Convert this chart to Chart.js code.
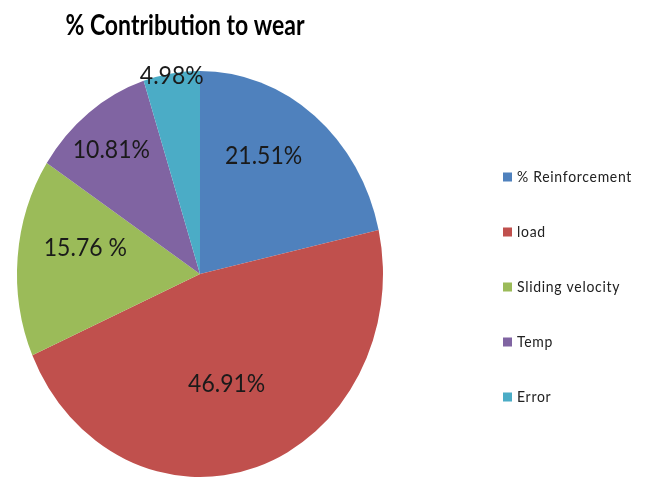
<!DOCTYPE html>
<html lang="en">
<head>
<meta charset="UTF-8">
<title>% Contribution to wear</title>
<style>
  html, body { margin: 0; padding: 0; background: #fff; }
  #wrap { width: 649px; height: 478px; }
</style>
</head>
<body>
<div id="wrap"><canvas id="wearChart" width="649" height="478"></canvas></div>
<script src="https://cdn.jsdelivr.net/npm/chart.js@4.4.0/dist/chart.umd.min.js"></script>
<script>
  // data
  var factors = ['% Reinforcement', 'load', 'Sliding velocity', 'Temp', 'Error'];
  var contribution = [21.51, 46.91, 15.76, 10.81, 4.98];
  var pctLabels = ['21.51%', '46.91%', '15.76 %', '10.81%', '4.98%'];
  var sliceColors = ['#4F81BD', '#C0504D', '#9BBB59', '#8064A2', '#4BACC6'];

  // the original pie (and its text) is a bit taller than wide
  var stretchY = 203 / 183;
  // where each percentage sits: fraction of the radius, and a small turn in degrees
  var labelRadius = [0.68, 0.56, 0.64, 0.78, 0.99];
  var labelTurn = [-8, 3, 7, -1, 0];

  function tallText(ctx, text, x, y, sy) {
    ctx.save();
    ctx.translate(x, y);
    ctx.scale(1, sy);
    ctx.fillText(text, 0, 0);
    ctx.restore();
  }

  var ovalPlugin = {
    id: 'oval',
    beforeDatasetsDraw: function (chart) {
      var a = chart.getDatasetMeta(0).data[0];
      var ctx = chart.ctx;
      ctx.save();
      ctx.translate(a.x, a.y);
      ctx.scale(1, stretchY);
      ctx.translate(-a.x, -a.y);
    },
    afterDatasetsDraw: function (chart) {
      chart.ctx.restore();
    }
  };

  var textPlugin = {
    id: 'texts',
    afterDraw: function (chart) {
      var ctx = chart.ctx;
      ctx.save();

      // title
      ctx.fillStyle = '#000';
      ctx.font = 'bold 23px Lato';
      ctx.textAlign = 'center';
      ctx.textBaseline = 'alphabetic';
      tallText(ctx, '% Contribution to wear', 185, 35, 1.2);

      // slice labels
      ctx.font = '23px Lato';
      ctx.textBaseline = 'middle';
      ctx.fillStyle = '#1a1a1a';
      chart.getDatasetMeta(0).data.forEach(function (arc, i) {
        var mid = (arc.startAngle + arc.endAngle) / 2 + labelTurn[i] * Math.PI / 180;
        var r = arc.outerRadius * labelRadius[i];
        var x = arc.x + Math.cos(mid) * r;
        var y = arc.y + Math.sin(mid) * r * stretchY;
        tallText(ctx, pctLabels[i], x, y, 1.1);
      });

      // legend
      ctx.font = '14px Lato';
      ctx.letterSpacing = '0.7px';
      ctx.textAlign = 'left';
      factors.forEach(function (name, i) {
        var cy = 177 + i * 55;
        ctx.fillStyle = sliceColors[i];
        ctx.fillRect(503, cy - 4.5, 9, 9);
        ctx.fillStyle = '#222';
        tallText(ctx, name, 517, cy, 1.1);
      });

      ctx.restore();
    }
  };

  var ctxWear = document.getElementById('wearChart');
  var wearChart = new Chart(ctxWear, {
    type: 'pie',
    data: {
      labels: factors,
      datasets: [{
        data: contribution,
        backgroundColor: sliceColors,
        borderWidth: 0
      }]
    },
    options: {
      responsive: false,
      animation: false,
      layout: {
        padding: { left: 17, right: 266, top: 91, bottom: 21 }
      },
      plugins: {
        legend: { display: false },
        tooltip: { enabled: false },
        title: { display: false }
      }
    },
    plugins: [ovalPlugin, textPlugin]
  });
</script>
</body>
</html>
